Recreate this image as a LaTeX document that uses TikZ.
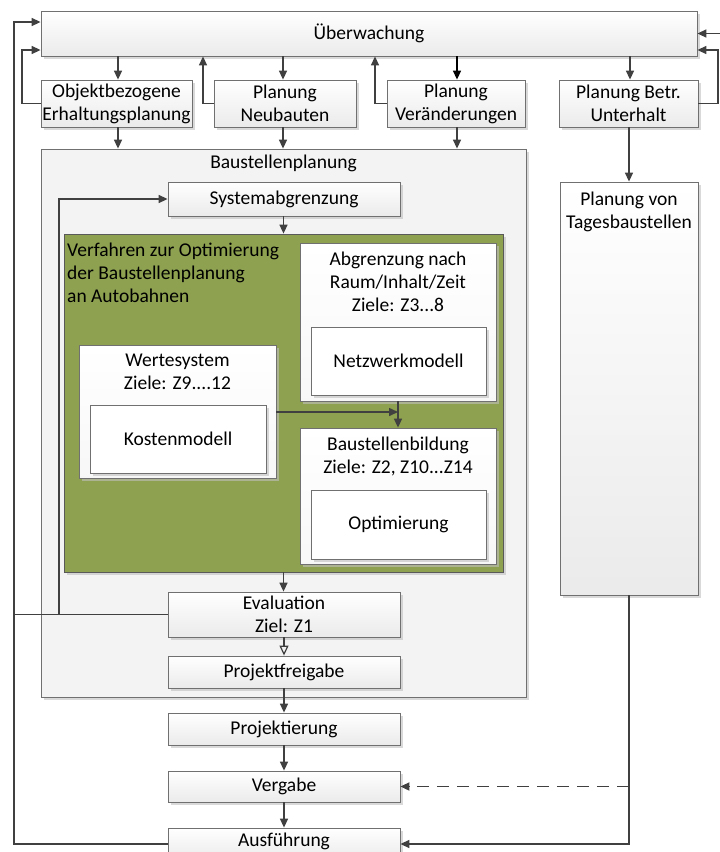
\documentclass[tikz,border=0pt]{standalone}
\usepackage{fontspec}
\setmainfont{Carlito}
\usetikzlibrary{arrows.meta,calc,shadows}
\definecolor{edge}{HTML}{707070}
\definecolor{wire}{HTML}{404040}
\definecolor{olive}{HTML}{8DA150}
\definecolor{panel}{HTML}{F3F3F3}
\begin{document}
\begin{tikzpicture}[x=1pt,y=-1pt,
  font=\fontsize{19.5}{23}\selectfont,
  every node/.style={inner sep=0pt,align=center},
  shade/.style={drop shadow={shadow xshift=2.5pt,shadow yshift=-2.5pt,fill=black!25,opacity=0.6}},
  box/.style={draw=edge,line width=0.8pt,top color=white,bottom color=black!8,shade},
  paper/.style={draw=edge,line width=0.8pt,top color=white,bottom color=black!3,shade},
  plain/.style={draw=edge,line width=0.8pt,fill=white,shade},
  container/.style={draw=edge,line width=0.8pt,fill=panel,shade},
  arr/.style={draw=wire,line width=1.5pt,-{Triangle[length=9pt,width=8pt]}},
  openarr/.style={draw=wire,line width=1.2pt,-{Triangle[open,length=10pt,width=9pt]}},
  ln/.style={draw=wire,line width=1.6pt},
  dashedarr/.style={arr,line width=1.8pt,dash pattern=on 12pt off 8pt},
]
\useasboundingbox (0,0) rectangle (720,852);

% --- top level ---
\node[box,minimum width=656,minimum height=45] (ueb) at (369,33.5) {Überwachung};
\node[box,minimum width=151,minimum height=47] (obj) at (116.5,103.5) {Objektbezogene\\Erhaltungsplanung};
\node[box,minimum width=142,minimum height=47] (neu) at (285,103.5) {Planung\\Neubauten};
\node[box,minimum width=138,minimum height=47] (ver) at (456,103.5) {Planung\\Veränderungen};
\node[box,minimum width=139,minimum height=47] (betr) at (628.5,103.5) {Planung Betr.\\Unterhalt};

% --- Baustellenplanung container ---
\node[container,minimum width=485,minimum height=548] (bsp) at (283.5,423) {};
\node (bsptxt) at (283.5,163) {Baustellenplanung};
\node[box,minimum width=232,minimum height=34] (sys) at (284,199) {Systemabgrenzung};

% --- optimisation procedure ---
\node[draw=black!65,line width=0.8pt,fill=olive,shade,minimum width=439,minimum height=338] (green) at (283.5,403) {};
\node[anchor=north west,align=left] (greentxt) at (67,243) {Verfahren zur Optimierung\\der Baustellenplanung\\an Autobahnen};

\node[paper,minimum width=196,minimum height=158] (abgr) at (398,322) {};
\node (abgrtxt) at (398,282) {Abgrenzung nach\\Raum/Inhalt/Zeit\\Ziele: Z3...8};
\node[plain,minimum width=175,minimum height=68] (netz) at (398.5,361) {Netzwerkmodell};

\node[paper,minimum width=197,minimum height=133] (wert) at (177.5,411.5) {};
\node (werttxt) at (177.5,372) {Wertesystem\\Ziele: Z9....12};
\node[plain,minimum width=176,minimum height=68] (kost) at (178,439) {Kostenmodell};

\node[paper,minimum width=196,minimum height=136] (bau) at (398,496) {};
\node (bautxt) at (398,456) {Baustellenbildung\\Ziele: Z2, Z10...Z14};
\node[plain,minimum width=175,minimum height=69] (opt) at (398.5,524.5) {Optimierung};

\node[box,minimum width=232,minimum height=45] (eval) at (284,614.5) {Evaluation\\Ziel: Z1};
\node[box,minimum width=232,minimum height=32] (frei) at (284,672) {Projektfreigabe};

% --- execution chain (the last box runs past the lower edge) ---
\node[box,minimum width=232,minimum height=32] (proj) at (284,729) {Projektierung};
\node[box,minimum width=232,minimum height=31] (verg) at (284,786.5) {Vergabe};
\node[box,minimum width=232,minimum height=32] (ausf) at (284,844) {};
\node (ausftxt) at (284,841.5) {Ausführung};

% --- daily work sites ---
\node[container,top color=white,bottom color=black!8,minimum width=138,minimum height=413] (tag) at (629,388.5) {};
\node (tagtxt) at (629,212) {Planung von\\Tagesbaustellen};

% --- routing points ---
\coordinate (outerL) at (14,0);
\coordinate (objL) at (22,0);
\coordinate (neuL) at (203,0);
\coordinate (verL) at (375,0);
\coordinate (betrR) at (718,0);
\coordinate (loopL) at (59,0);
\coordinate (feedR) at (720,33.5);
\coordinate (upper) at (0,22);
\coordinate (lower) at (0,50);

% --- connectors from the monitoring box ---
\draw[arr] (ueb.south -| 118,0) -- (obj.north -| 118,0);
\draw[arr] (ueb.south -| 283,0) -- (neu.north -| 283,0);
\draw[arr,draw=black] (ueb.south -| 457,0) -- (ver.north -| 457,0);
\draw[arr] (ueb.south -| 630,0) -- (betr.north -| 630,0);

% --- feedback into the monitoring box ---
\draw[arr] (obj.west) -| (objL |- lower) -- (ueb.west |- lower);
\draw[arr] (neu.west) -| (neuL |- ueb.south);
\draw[arr] (ver.west) -| (verL |- ueb.south);
\draw[arr] (betr.east) -| (betrR |- lower) -- (ueb.east |- lower);
\draw[arr] (feedR) -- (ueb.east |- feedR);
\draw[arr] (ausf.west) -| (outerL |- upper) -- (ueb.west |- upper);

% --- into the Baustellenplanung ---
\draw[arr] (obj.south -| 118,0) -- (bsp.north -| 118,0);
\draw[arr] (neu.south -| 283,0) -- (bsp.north -| 283,0);
\draw[arr] (ver.south -| 457,0) -- (bsp.north -| 457,0);
\draw[arr] (betr.south -| tag.north) -- (tag.north);

% --- inside the Baustellenplanung ---
\draw[arr] (sys.south -| 283.5,0) -- (green.north);
\draw[arr] (wert.east |- 0,412) -- (bau.north |- 0,412);
\draw[arr] (abgr.south) -- (bau.north);
\draw[arr] (green.south) -- (eval.north -| green.south);
\draw[openarr] (eval.south) -- (frei.north);
\draw[ln] (eval.west) -- (outerL |- eval.west);
\draw[arr] (eval.west) -| (loopL |- sys.west) -- (sys.west);

% --- execution chain ---
\draw[arr] (frei.south) -- (proj.north);
\draw[arr] (proj.south) -- (verg.north);
\draw[arr] (verg.south) -- (ausf.north);
\draw[arr] (tag.south) |- (ausf.east);
\draw[dashedarr] (tag.south |- verg.east) -- (verg.east);
\end{tikzpicture}
\end{document}
